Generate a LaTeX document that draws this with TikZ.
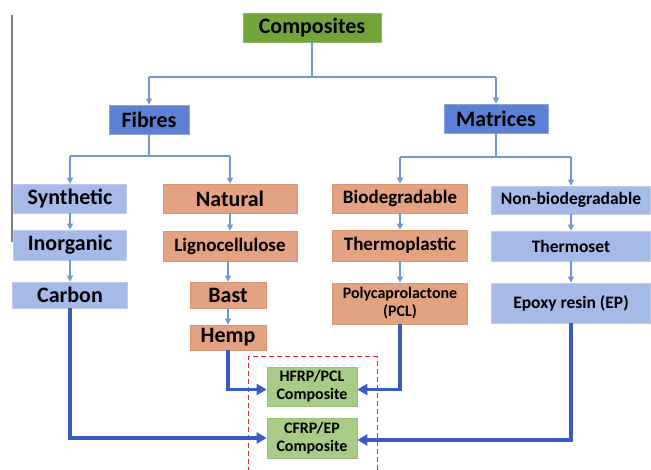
\documentclass[tikz,border=0pt]{standalone}
\usepackage{fontspec}
\setmainfont{Carlito}
\usetikzlibrary{arrows.meta,calc}
\definecolor{cgreen}{HTML}{72A53C}
\definecolor{cgreenb}{HTML}{8DB860}
\definecolor{lgreen}{HTML}{A6CC88}
\definecolor{lgreenb}{HTML}{98C07A}
\definecolor{dblue}{HTML}{5C80D4}
\definecolor{dblueb}{HTML}{8AA6E0}
\definecolor{lblue}{HTML}{A6BAE7}
\definecolor{lblueb}{HTML}{BCCBEE}
\definecolor{orng}{HTML}{E3A282}
\definecolor{orngb}{HTML}{D9936E}
\definecolor{thinline}{HTML}{7095D8}
\definecolor{thickline}{HTML}{3A5CC0}
\definecolor{redd}{HTML}{E8262B}
\begin{document}
\begin{tikzpicture}[x=1pt,y=-1pt,
  box/.style={draw, line width=0.8pt, inner sep=0pt, align=center},
  topbox/.style={box, fill=cgreen, draw=cgreenb},
  resbox/.style={box, fill=lgreen, draw=lgreenb},
  dbox/.style={box, fill=dblue, draw=dblueb},
  lbbox/.style={box, fill=lblue, draw=lblueb},
  obox/.style={box, fill=orng, draw=orngb},
  fA/.style={font=\bfseries\fontsize{22}{24}\selectfont},
  fB/.style={font=\bfseries\fontsize{19}{21}\selectfont},
  fC/.style={font=\bfseries\fontsize{17.5}{19}\selectfont},
  fD/.style={font=\bfseries\fontsize{16}{18}\selectfont},
  thinarrow/.style={draw=thinline, line width=1.2pt, -{Triangle[length=6pt,width=6pt]}, fill=thinline},
  thinplain/.style={draw=thinline, line width=1.2pt},
  thickarrow/.style={draw=thickline, line width=3.2pt, -{Triangle[length=10pt,width=11pt]}}
]
\useasboundingbox (0,0) rectangle (651,470);
\fill[white] (0,0) rectangle (651,470);

% stray vertical rule at left
\draw[gray, line width=1.5pt] (12,15) -- (12,242);

% nodes
\node[topbox, fA, minimum width=138pt, minimum height=29pt] (comp) at (312,27.5) {Composites};
\node[dbox, fA, minimum width=80pt, minimum height=29pt] (fib) at (149,119.5) {Fibres};
\node[dbox, fA, minimum width=104pt, minimum height=29pt] (mat) at (496,118.5) {Matrices};

\node[lbbox, fA, minimum width=113pt, minimum height=29pt] (syn) at (70,198.5) {Synthetic};
\node[lbbox, fA, minimum width=113pt, minimum height=30pt] (ino) at (70,245) {Inorganic};
\node[lbbox, fA, minimum width=115pt, minimum height=26pt] (car) at (70,295) {Carbon};

\node[obox, fA, minimum width=134pt, minimum height=29pt] (nat) at (230,198.5) {Natural};
\node[obox, fB, minimum width=134pt, minimum height=30pt] (lig) at (230,246) {Lignocellulose};
\node[obox, fA, minimum width=76pt, minimum height=26pt] (bast) at (228,295) {Bast};
\node[obox, fA, minimum width=76pt, minimum height=25pt] (hemp) at (228,337.5) {Hemp};

\node[obox, fB, minimum width=135pt, minimum height=29pt] (bio) at (400,198.5) {Biodegradable};
\node[obox, fB, minimum width=135pt, minimum height=31pt] (tpl) at (400,245.5) {Thermoplastic};
\node[obox, fD, minimum width=135pt, minimum height=41pt] (pcl) at (400,303.5) {Polycaprolactone\\(PCL)};

\node[lbbox, fC, minimum width=159pt, minimum height=28pt] (nbio) at (571,200) {Non-biodegradable};
\node[lbbox, fC, minimum width=159pt, minimum height=30pt] (tset) at (571,246) {Thermoset};
\node[lbbox, fC, minimum width=159pt, minimum height=40pt] (epox) at (571,303) {Epoxy resin (EP)};

\node[resbox, fD, minimum width=90pt, minimum height=39pt] (hfrp) at (312,386.5) {HFRP/PCL\\Composite};
\node[resbox, fD, minimum width=90pt, minimum height=40pt] (cfrp) at (312,438) {CFRP/EP\\Composite};

% dashed red frame (runs off the bottom)
\draw[redd, line width=1pt, dash pattern=on 5pt off 3pt] (248,472) -- (248,357) -- (377,357) -- (377,472);

% thin tree connectors
\draw[thinplain] (comp.south) -- (comp.south |- 0,77);
\draw[thinarrow] (fib.north |- 0,77) -- (fib.north);
\draw[thinarrow] (mat.north |- 0,77) -- (mat.north);
\draw[thinplain] (fib.north |- 0,77) -- (mat.north |- 0,77);

\draw[thinplain] (fib.south) -- (fib.south |- 0,156);
\draw[thinplain] (syn.north |- 0,156) -- (nat.north |- 0,156);
\draw[thinarrow] (syn.north |- 0,156) -- (syn.north);
\draw[thinarrow] (nat.north |- 0,156) -- (nat.north);

\draw[thinplain] (mat.south) -- (mat.south |- 0,157);
\draw[thinplain] (bio.north |- 0,157) -- (nbio.north |- 0,157);
\draw[thinarrow] (bio.north |- 0,157) -- (bio.north);
\draw[thinarrow] (nbio.north |- 0,157) -- (nbio.north);

\draw[thinarrow] (syn) -- (ino);
\draw[thinarrow] (ino) -- (car);
\draw[thinarrow] (nat.south) -- (nat.south |- lig.north);
\draw[thinarrow] (lig.south -| bast.north) -- (bast.north);
\draw[thinarrow] (bast) -- (hemp);
\draw[thinarrow] (bio) -- (tpl);
\draw[thinarrow] (tpl) -- (pcl);
\draw[thinarrow] (nbio) -- (tset);
\draw[thinarrow] (tset) -- (epox);

% thick connectors to the composites
\draw[thickarrow] (hemp.south) |- ([yshift=-3pt]hfrp.west);
\draw[thickarrow] (pcl.south) |- ([yshift=-3pt]hfrp.east);
\draw[thickarrow] (car.south) |- (cfrp.west);
\draw[thickarrow] (epox.south) |- ([yshift=-2pt]cfrp.east);
\end{tikzpicture}
\end{document}
